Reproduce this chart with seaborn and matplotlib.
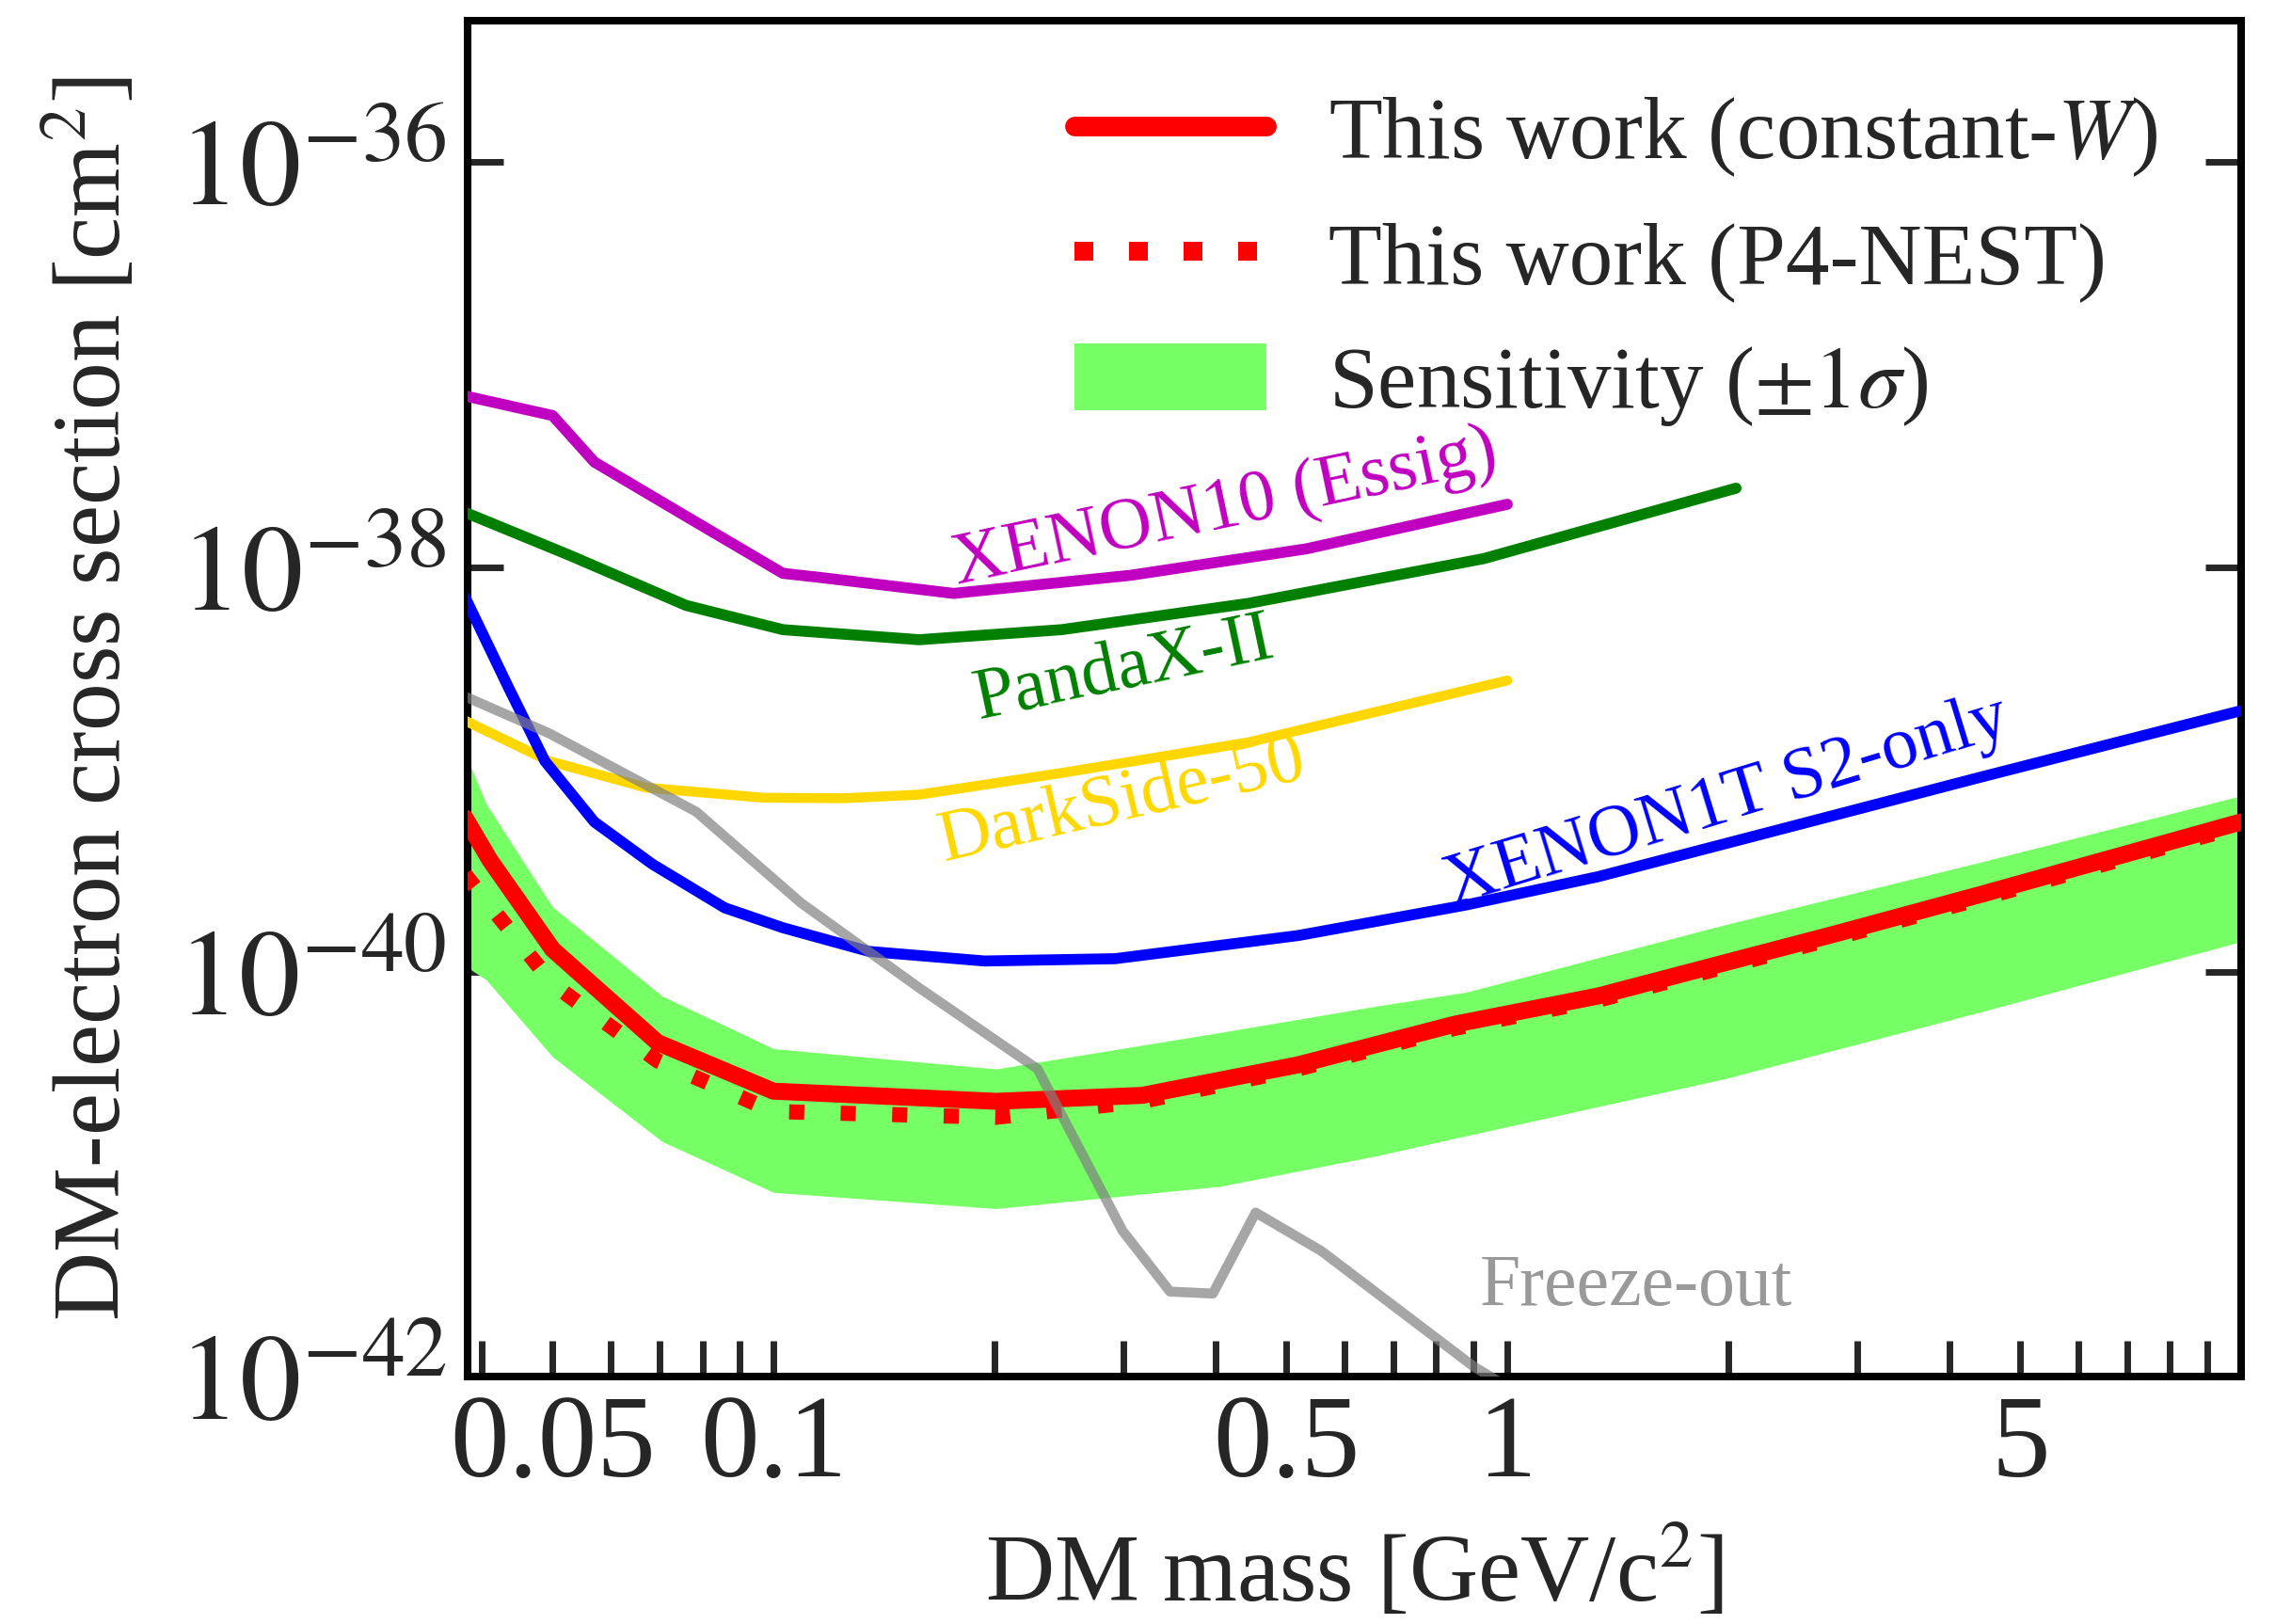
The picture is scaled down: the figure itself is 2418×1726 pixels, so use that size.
import numpy as np
import pandas as pd
import matplotlib
matplotlib.use("Agg")
import matplotlib.pyplot as plt
import seaborn as sns
from matplotlib.ticker import FixedLocator, NullLocator, FixedFormatter, NullFormatter
from matplotlib.lines import Line2D
from matplotlib.patches import Patch

# ---------------- data (mass in GeV/c^2, cross section in cm^2) ----------------
xenon10_mass = [0.038, 0.05, 0.057, 0.076, 0.103, 0.115, 0.176, 0.307, 0.533, 1.0]
xenon10_xs = [7.0e-38, 5.6e-38, 3.3e-38, 1.78e-38, 9.3e-39, 8.9e-39, 7.4e-39, 9.1e-39, 1.23e-38, 2.04e-38]

pandax_mass = [0.038, 0.0525, 0.076, 0.103, 0.158, 0.247, 0.444, 0.929, 2.05]
pandax_xs = [1.86e-38, 1.15e-38, 6.46e-39, 4.90e-39, 4.37e-39, 4.90e-39, 6.61e-39, 1.10e-38, 2.45e-38]

darkside_mass = [0.038, 0.0494, 0.067, 0.0968, 0.125, 0.158, 0.247, 0.444, 1.0]
darkside_xs = [1.74e-39, 1.10e-39, 8.13e-40, 7.24e-40, 7.2e-40, 7.5e-40, 9.6e-40, 1.36e-39, 2.75e-39]

xenon1t_mass = [0.038, 0.0434, 0.0488, 0.057, 0.0684, 0.0858, 0.103, 0.135, 0.194, 0.292, 0.519,
                0.88, 1.33, 1.97, 4.4, 10.0]
xenon1t_xs = [7.08e-39, 2.6e-39, 1.1e-39, 5.5e-40, 3.4e-40, 2.07e-40, 1.65e-40, 1.26e-40, 1.13e-40,
              1.16e-40, 1.51e-40, 2.14e-40, 2.95e-40, 4.27e-40, 9.12e-40, 1.95e-39]

constw_mass = [0.038, 0.0411, 0.05, 0.0695, 0.1, 0.201, 0.318, 0.519, 0.847, 1.33, 2.82, 4.4, 10.0]
constw_xs = [5.75e-40, 3.55e-40, 1.29e-40, 4.47e-41, 2.57e-41, 2.29e-41, 2.45e-41, 3.47e-41,
             5.50e-41, 7.59e-41, 1.55e-40, 2.40e-40, 5.50e-40]

nest_mass = [0.038, 0.05, 0.0695, 0.1, 0.201, 0.318, 0.519, 0.847, 1.33, 2.82, 4.4, 10.0]
nest_xs = [3.02e-40, 8.71e-41, 3.63e-41, 2.04e-41, 1.91e-41, 2.29e-41, 3.31e-41, 5.25e-41,
           7.24e-41, 1.48e-40, 2.29e-40, 5.25e-40]

band_mass = [0.038, 0.0406, 0.05, 0.0705, 0.1, 0.201, 0.406, 0.662, 0.88, 1.97, 4.4, 10.0]
band_upper = [1.20e-39, 6.76e-40, 2.09e-40, 7.59e-41, 4.17e-41, 3.31e-41, 5.01e-41, 6.76e-41,
              7.94e-41, 1.70e-40, 3.47e-40, 7.41e-40]
band_lower = [1.07e-40, 9.12e-41, 3.80e-41, 1.45e-41, 8.13e-42, 6.76e-42, 8.71e-42, 1.23e-41,
              1.55e-41, 2.95e-41, 6.31e-41, 1.41e-40]

freeze_mass = [0.038, 0.0494, 0.0785, 0.109, 0.158, 0.229, 0.299, 0.347, 0.397, 0.454, 0.558, 0.9, 1.0]
freeze_xs = [2.29e-39, 1.51e-39, 6.17e-40, 2.19e-40, 8.32e-41, 3.31e-41, 5.25e-42, 2.63e-42,
             2.57e-42, 6.46e-42, 4.17e-42, 1.12e-42, 8.9e-43]

xtick_major = [0.05, 0.1, 0.5, 1, 5]
xtick_labels = ["0.05", "0.1", "0.5", "1", "5"]
xtick_minor = [0.04, 0.06, 0.07, 0.08, 0.09, 0.2, 0.3, 0.4, 0.6, 0.7, 0.8, 0.9, 2, 3, 4, 6, 7, 8, 9]
ytick_vals = [1e-42, 1e-40, 1e-38, 1e-36]
ytick_labels = [r"$10^{-42}$", r"$10^{-40}$", r"$10^{-38}$", r"$10^{-36}$"]

# ---------------- style ----------------
sns.set_style("ticks")
plt.rcParams["font.family"] = ["Liberation Serif", "DejaVu Serif"]
plt.rcParams["mathtext.fontset"] = "stix"

C_RED = "#FF0000"
C_MAG = "#C000C0"
C_GRN = "#007F00"
C_GOLD = "#FFD700"
C_BLUE = "#0000FF"
C_BAND = "#77FF66"

fig = plt.figure(figsize=(12.09, 8.63), dpi=200)
ax = fig.add_axes([497 / 2418, 1 - 1463 / 1726, (2382 - 497) / 2418, (1463 - 22) / 1726])
ax.set_xscale("log")
ax.set_yscale("log")

# band
ax.fill_between(band_mass, band_lower, band_upper, color=C_BAND, lw=0, zorder=1)

def draw(x, y, **kw):
    df = pd.DataFrame({"m": x, "xs": y})
    sns.lineplot(data=df, x="m", y="xs", ax=ax, sort=False, estimator=None, **kw)

draw(nest_mass, nest_xs, color=C_RED, lw=5.8, linestyle=(0, (1, 2.4)), zorder=3)
draw(constw_mass, constw_xs, color=C_RED, lw=6.5, zorder=4)
draw(xenon10_mass, xenon10_xs, color=C_MAG, lw=4.2, zorder=5)
draw(pandax_mass, pandax_xs, color=C_GRN, lw=4.2, zorder=5)
draw(darkside_mass, darkside_xs, color=C_GOLD, lw=3.8, zorder=5)
draw(xenon1t_mass, xenon1t_xs, color=C_BLUE, lw=4.2, zorder=5)
draw(freeze_mass, freeze_xs, color="#808080", alpha=0.7, lw=3.8, zorder=6)

ax.set_xlim(0.0383, 10)
ax.set_ylim(1e-42, 5e-36)

# ticks
ax.xaxis.set_major_locator(FixedLocator(xtick_major))
ax.xaxis.set_major_formatter(FixedFormatter(xtick_labels))
ax.xaxis.set_minor_locator(FixedLocator(xtick_minor))
ax.xaxis.set_minor_formatter(NullFormatter())
ax.yaxis.set_major_locator(FixedLocator(ytick_vals))
ax.yaxis.set_major_formatter(FixedFormatter(ytick_labels))
ax.yaxis.set_minor_locator(NullLocator())

ax.tick_params(axis="x", which="both", direction="in", top=False, bottom=True,
               length=13.7, width=2.5, labelsize=45, pad=7)
ax.tick_params(axis="y", which="both", direction="in", left=True, right=True,
               length=13.7, width=2.5, labelsize=47, pad=8)
for s in ax.spines.values():
    s.set_linewidth(2.9)
    s.set_color("black")

ax.set_xlabel(r"DM mass [GeV/c$^2$]", fontsize=36.5, labelpad=9)
ax.set_ylabel(r"DM-electron cross section [cm$^2$]", fontsize=36.5, labelpad=14)

# curve labels
ax.text(0.412, 1.94e-38, "XENON10 (Essig)", color=C_MAG, fontsize=28, rotation=12,
        ha="center", va="center", rotation_mode="anchor")
ax.text(0.301, 3.1e-39, "PandaX-II", color=C_GRN, fontsize=28, rotation=12,
        ha="center", va="center", rotation_mode="anchor")
ax.text(0.299, 6.9e-40, "DarkSide-50", color=C_GOLD, fontsize=28, rotation=13,
        ha="center", va="center", rotation_mode="anchor")
ax.text(1.99, 6.9e-40, "XENON1T S2-only", color=C_BLUE, fontsize=28, rotation=17,
        ha="center", va="center", rotation_mode="anchor")
ax.text(1.50, 2.75e-42, "Freeze-out", color="#999999", fontsize=28,
        ha="center", va="center")

# legend
handles = [
    Line2D([], [], color=C_RED, lw=7.5),
    Line2D([], [], color=C_RED, lw=7.2, linestyle=(0, (1, 1.9))),
    Patch(facecolor=C_BAND, edgecolor="none"),
]
labels = [r"This work (constant-$W$)", "This work (P4-NEST)", r"Sensitivity ($\pm1\sigma$)"]
ax.legend(handles, labels, loc="upper left", bbox_to_anchor=(0.342, 0.946),
          frameon=False, fontsize=33.5, handlelength=2.2, handleheight=0.8,
          handletextpad=0.7, labelspacing=0.47, borderpad=0, borderaxespad=0)

fig.savefig("out.png", dpi=200)
